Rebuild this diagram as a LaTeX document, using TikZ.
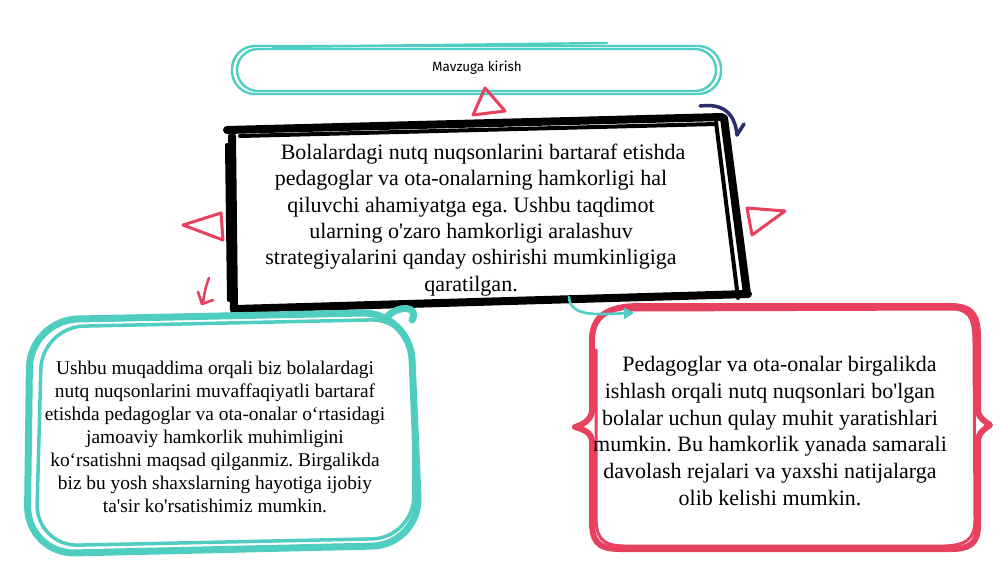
\documentclass[tikz,border=0pt]{standalone}
\usepackage{fontspec}
\newfontfamily\tnr{Liberation Serif}
\newfontfamily\fira{Fira Sans}
\usetikzlibrary{arrows.meta}
\definecolor{tl}{HTML}{4FCDC0}
\definecolor{rd}{HTML}{E8405F}
\definecolor{nv}{HTML}{2A2C6B}
\tikzset{
  tealthin/.style={draw=tl, line width=2.4pt, line cap=round, line join=round},
  tealthick/.style={draw=tl, line width=7pt, line cap=round, line join=round},
  tealmid/.style={draw=tl, line width=3.5pt, line cap=round, line join=round},
  redthick/.style={draw=rd, line width=6pt, line cap=round, line join=round},
  redmid/.style={draw=rd, line width=3pt, line cap=round, line join=round},
  redtri/.style={draw=rd, line width=3pt, line join=round},
  blackframe/.style={draw=black, line width=8pt, line cap=round},
  blackthin/.style={draw=black, line width=4pt, line cap=round},
  bodytext/.style={align=center, inner sep=0pt, text=black},
}
\begin{document}
\frenchspacing
\begin{tikzpicture}[x=1pt,y=-1pt]
\useasboundingbox[fill=white] (0,0) rectangle (1000,563);

% ---- top pill ----
\draw[tealthin, rounded corners=23] (232,46) rectangle (721,94);
\draw[tealthin, rounded corners=21] (237,49) rectangle (716,91);
\draw[tealthin] (273,47) -- (607,43);
\node[font=\fira\fontsize{13.5}{16}\selectfont] (intro) at (477,68) {Mavzuga kirish};

% red triangle under pill
\draw[redtri] (485,88) -- (473,115) -- (505,111) -- cycle;

% ---- main black box ----
\draw[blackframe] (227,130) -- (722,117);
\draw[blackframe] (724,118) -- (747,294);
\draw[blackframe] (748,294) -- (236,309);
\draw[blackframe] (234,310) -- (232,136);
\draw[blackthin] (240,136) -- (716,124);
\draw[blackthin] (716,122) -- (738,298);
\draw[blackthin] (227,145) -- (229,300);

\node[bodytext, font=\tnr\fontsize{22}{26.4}\selectfont] (main) at (471,220)
 {\hspace*{24pt}Bolalardagi nutq nuqsonlarini bartaraf etishda\\
  pedagoglar va ota-onalarning hamkorligi hal\\
  qiluvchi ahamiyatga ega. Ushbu taqdimot\\
  ularning o'zaro hamkorligi aralashuv\\
  strategiyalarini qanday oshirishi mumkinligiga\\
  qaratilgan.};

% navy curl
\draw[draw=nv, line width=3.5pt, line cap=round, line join=round]
  (700,106) .. controls (724,103) and (735,114) .. (737,135) -- (744,124);

% decorative red triangles and arrow
\draw[redtri] (183,225) -- (221,213) -- (223,240) -- cycle;
\draw[redtri] (747,208) -- (785,211) -- (752,235) -- cycle;
\draw[draw=rd, line width=2.6pt, line cap=round, line join=round]
  (209,278) .. controls (205,288) and (204,296) .. (203,303);
\draw[draw=rd, line width=2.6pt, line cap=round, line join=round]
  (198,292) -- (202,304) -- (213,300);

% ---- left teal box ----
\draw[tealthick, rounded corners=48] (30,320) -- (410,312) -- (420,545) -- (27,554) -- cycle;
\draw[tealmid, rounded corners=42] (42,327) -- (413,319) -- (414,538) -- (36,546) -- cycle;
\draw[tealthick] (386,318) .. controls (398,304) and (420,306) .. (412,320);

\node[bodytext, font=\tnr\fontsize{19.4}{23}\selectfont] (left) at (215,437)
 {Ushbu muqaddima orqali biz bolalardagi\\
  nutq nuqsonlarini muvaffaqiyatli bartaraf\\
  etishda pedagoglar va ota-onalar o‘rtasidagi\\
  jamoaviy hamkorlik muhimligini\\
  ko‘rsatishni maqsad qilganmiz. Birgalikda\\
  biz bu yosh shaxslarning hayotiga ijobiy\\
  ta'sir ko'rsatishimiz mumkin.};

% ---- right red box ----
\draw[redthick] (640,306) -- (950,306) .. controls (975,306) and (978,318) .. (978,340)
  -- (978,410) .. controls (978,418) and (986,422) .. (990,425)
  .. controls (986,428) and (978,432) .. (978,442)
  -- (978,525) .. controls (978,545) and (968,549) .. (950,549)
  -- (620,549) .. controls (596,549) and (592,540) .. (592,520)
  -- (592,442) .. controls (592,432) and (582,429) .. (575,427)
  .. controls (582,425) and (592,420) .. (592,410)
  -- (592,340) .. controls (592,318) and (605,306) .. (640,306);
\draw[redmid] (630,310) -- (955,309) .. controls (972,311) and (974,322) .. (974,345)
  -- (975,520) .. controls (975,540) and (965,545) .. (945,546)
  -- (625,546) .. controls (600,546) and (596,536) .. (596,515)
  -- (596,350);

\node[bodytext, font=\tnr\fontsize{22}{26.8}\selectfont] (right) at (770,431)
 {\hspace*{19pt}Pedagoglar va ota-onalar birgalikda\\
  ishlash orqali nutq nuqsonlari bo'lgan\\
  bolalar uchun qulay muhit yaratishlari\\
  mumkin. Bu hamkorlik yanada samarali\\
  davolash rejalari va yaxshi natijalarga\\
  olib kelishi mumkin.};

% teal connector from main box to right box
\coordinate (ts) at (569,297);
\coordinate (te) at (634,313);
\draw[draw=tl, line width=2.6pt, line cap=round, -{Triangle[length=10pt,width=11pt]}]
  (ts) .. controls (570,318) and (600,314) .. (te);
\end{tikzpicture}
\end{document}
